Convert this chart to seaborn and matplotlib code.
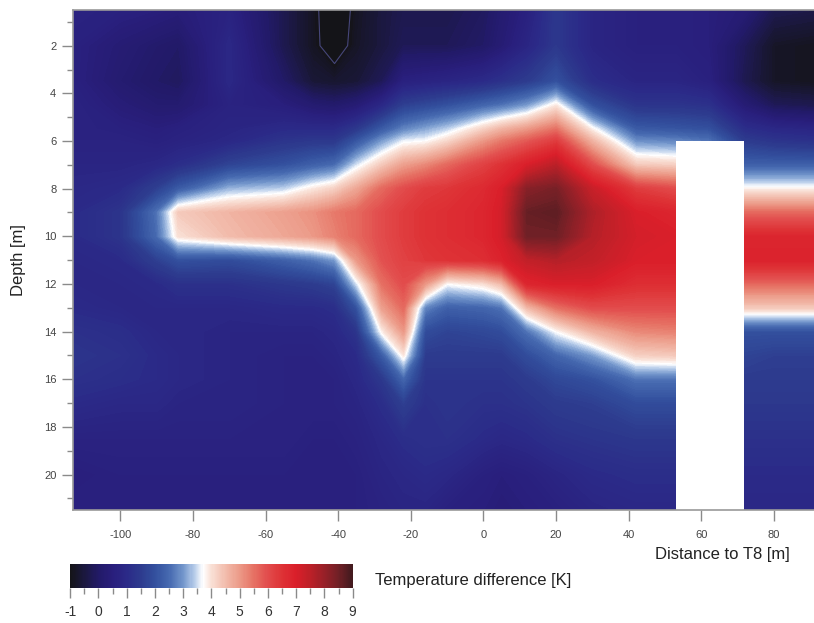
import numpy as np
import matplotlib
matplotlib.use("Agg")
import matplotlib.pyplot as plt
import seaborn as sns
from matplotlib.colors import LinearSegmentedColormap, Normalize
from matplotlib.cm import ScalarMappable
from matplotlib.ticker import MultipleLocator

# positions of the readings
distance = [-113, -100, -90, -84, -70, -55, -47, -41, -35, -28, -22, -16,
            -10, 0, 5, 12, 20, 30, 42, 53, 62, 72, 80, 91]
depth = [0.5, 2, 3.5, 4.5, 5.5, 6, 7, 8, 9, 10, 11, 12, 13, 14, 15, 16, 17,
         18.5, 20, 21.5]

nan = np.nan
# temperature difference [K], one depth profile (top -> bottom) per distance
profiles = [
    [0.7, 0.6, 0.6, 0.7, 0.7, 0.7, 0.8, 0.9, 1.0, 1.0, 0.9, 0.9, 1.0, 1.2, 1.3, 1.2, 1.0, 0.7, 0.5, 0.6],   # -113
    [0.6, 0.3, 0.2, 0.4, 0.6, 0.7, 0.8, 1.0, 1.3, 1.3, 1.0, 0.9, 0.9, 1.1, 1.2, 1.1, 0.9, 0.7, 0.6, 0.6],   # -100
    [0.5, 0.1, 0.0, 0.2, 0.5, 0.6, 0.9, 1.6, 2.6, 2.5, 1.6, 1.0, 0.9, 0.9, 1.0, 1.0, 0.9, 0.7, 0.6, 0.6],   # -90
    [0.4, 0.0, -0.1, 0.2, 0.6, 0.7, 1.1, 2.2, 4.3, 4.0, 2.0, 1.2, 0.9, 0.9, 0.9, 0.9, 0.8, 0.7, 0.6, 0.6],  # -84
    [0.7, 0.9, 0.9, 0.7, 0.8, 0.9, 1.7, 3.2, 4.6, 4.5, 1.9, 1.2, 0.9, 0.8, 0.8, 0.8, 0.8, 0.7, 0.6, 0.6],   # -70
    [-0.3, -0.3, 0.0, 0.5, 1.0, 1.3, 2.0, 3.4, 4.9, 4.8, 2.3, 1.4, 1.0, 0.8, 0.7, 0.7, 0.7, 0.7, 0.6, 0.6], # -55
    [-0.85, -0.85, -0.6, 0.2, 1.0, 1.4, 2.3, 3.9, 5.1, 5.0, 2.6, 1.5, 1.0, 0.8, 0.7, 0.7, 0.7, 0.6, 0.6, 0.6], # -47
    [-1.4, -1.3, -0.7, 0.1, 1.0, 1.4, 2.5, 4.2, 5.4, 5.3, 3.0, 1.7, 1.1, 0.9, 0.8, 0.7, 0.7, 0.6, 0.6, 0.6], # -41
    [-0.85, -0.8, -0.6, 0.3, 1.4, 2.1, 3.5, 4.8, 5.6, 5.6, 5.0, 3.5, 2.0, 1.3, 1.0, 0.9, 0.8, 0.7, 0.6, 0.6], # -35
    [-0.5, -0.5, -0.2, 0.9, 2.2, 3.0, 4.3, 5.6, 6.0, 6.0, 5.9, 5.5, 4.9, 3.8, 2.2, 1.4, 1.1, 0.9, 0.8, 0.7], # -28
    [-0.3, -0.2, 0.6, 1.6, 2.8, 3.6, 4.9, 6.0, 6.3, 6.3, 6.2, 6.0, 5.6, 5.0, 3.9, 2.4, 1.6, 1.1, 0.9, 0.8], # -22
    [-0.3, -0.2, 0.7, 1.8, 3.1, 3.7, 5.2, 6.3, 6.5, 6.5, 6.4, 5.0, 2.8, 1.9, 1.5, 1.3, 1.2, 1.2, 1.0, 0.8], # -16
    [-0.3, -0.2, 0.8, 2.0, 3.4, 4.1, 5.6, 6.4, 6.6, 6.6, 6.5, 3.7, 2.3, 1.7, 1.5, 1.3, 1.3, 1.2, 0.9, 0.6], # -10
    [-0.1, 0.0, 1.0, 2.4, 4.2, 5.0, 6.2, 6.7, 6.8, 6.8, 6.6, 4.0, 2.4, 1.8, 1.5, 1.3, 1.2, 1.0, 0.6, 0.5],  # 0
    [0.2, 0.3, 1.2, 2.6, 4.6, 5.4, 6.5, 7.0, 7.1, 7.1, 6.9, 4.5, 2.6, 1.9, 1.5, 1.3, 1.2, 0.9, 0.5, 0.4],   # 5
    [0.6, 0.8, 1.5, 3.0, 5.0, 5.8, 7.0, 8.2, 8.6, 8.5, 7.4, 6.8, 4.5, 2.6, 1.9, 1.5, 1.3, 1.0, 0.6, 0.5],   # 12
    [1.4, 1.4, 2.0, 3.9, 5.5, 6.3, 7.5, 8.4, 8.7, 8.5, 7.6, 7.0, 5.5, 3.7, 2.4, 1.8, 1.5, 1.2, 0.8, 0.6],   # 20
    [0.8, 0.8, 1.1, 2.0, 3.8, 4.6, 6.0, 7.3, 7.7, 7.6, 7.4, 7.0, 6.0, 4.6, 3.0, 2.0, 1.6, 1.3, 1.0, 0.8],   # 30
    [0.6, 0.6, 0.8, 1.3, 2.2, 2.9, 4.3, 6.3, 7.0, 7.1, 7.0, 6.6, 6.0, 5.2, 4.2, 2.6, 1.9, 1.4, 1.1, 0.9],   # 42
    [0.6, 0.6, 0.8, 1.3, 2.1, 2.8, 4.2, 6.0, 6.8, 7.0, 7.0, 6.6, 6.0, 5.3, 4.3, 2.6, 1.9, 1.4, 1.1, 0.9],   # 53
    [0.5, 0.5, 0.6, 1.2, 2.0, 2.6, nan, nan, nan, nan, nan, nan, nan, nan, nan, nan, nan, nan, nan, nan],  # 62 (no data)
    [0.3, -0.2, -0.3, 0.3, 1.1, 1.5, 2.3, 3.8, 5.6, 6.8, 6.9, 5.6, 4.3, 2.0, 1.7, 1.5, 1.4, 1.2, 1.0, 0.9], # 72
    [-0.3, -0.8, -0.8, -0.2, 0.9, 1.3, 2.3, 3.8, 5.6, 6.8, 6.9, 5.6, 4.3, 2.0, 1.6, 1.5, 1.4, 1.2, 1.0, 0.9], # 80
    [-0.4, -0.9, -0.9, -0.3, 0.8, 1.2, 2.3, 3.8, 5.6, 6.8, 6.9, 5.6, 4.3, 2.0, 1.6, 1.5, 1.4, 1.2, 1.0, 0.9], # 91
]

# colour scale
scale_values = [-1, -0.5, 0, 0.5, 1, 1.5, 2, 2.5, 3, 3.4, 3.7, 4, 4.5, 5, 5.5,
                6, 6.5, 7, 7.5, 8, 8.5, 9]
scale_colors = ["#141418", "#1b1840", "#221a68", "#291e7c", "#2b2a88", "#2d3b8e",
                "#33509e", "#4669b0", "#7497cc", "#b8cdea", "#ffffff", "#f9e0d6",
                "#f2bcac", "#ec9a88", "#e67264", "#e24c4c", "#de3236", "#da1f2a",
                "#bd2028", "#982028", "#722026", "#421a1e"]
cbar_ticks = list(range(-1, 10))

sns.set_theme(style="ticks")
plt.rcParams["font.family"] = ["Liberation Sans", "DejaVu Sans"]
plt.rcParams["axes.unicode_minus"] = False

vmin, vmax = scale_values[0], scale_values[-1]
cmap = LinearSegmentedColormap.from_list(
    "tempdiff",
    [((v - vmin) / (vmax - vmin), c) for v, c in zip(scale_values, scale_colors)])
norm = Normalize(vmin, vmax)

Z = np.ma.masked_invalid(np.array(profiles).T)

fig = plt.figure(figsize=(8.14, 6.23), dpi=100)
ax = fig.add_axes([0.0897, 0.181, 0.9103, 0.803])
ax.set_facecolor("white")

ax.contourf(distance, depth, Z, levels=np.linspace(vmin, vmax, 201), cmap=cmap,
            norm=norm, extend="both", corner_mask=False)
ax.contour(distance, depth, Z, levels=[-1.0], colors="#46467a", linewidths=0.8,
           linestyles="solid", corner_mask=False)

ax.set_xlim(-113, 91)
ax.set_ylim(21.5, 0.5)
ax.set_xticks(range(-100, 81, 20))
ax.yaxis.set_major_locator(MultipleLocator(2))
ax.yaxis.set_minor_locator(MultipleLocator(1))
ax.tick_params(which="major", length=8, width=1, color="#8a8a8a",
               labelsize=8, labelcolor="#444444", direction="out", pad=4)
ax.tick_params(axis="x", which="major", pad=6)
ax.tick_params(which="minor", length=4, width=1, color="#8a8a8a", direction="out")
for side in ["left", "top", "bottom"]:
    ax.spines[side].set_color("#9a9a9a")
    ax.spines[side].set_linewidth(1.2)
ax.spines["right"].set_visible(False)

ax.set_xlabel("Distance to T8 [m]", fontsize=12, color="#222222", loc="right")
ax.xaxis.set_label_coords(0.9676, -0.088)
ax.xaxis.label.set_va("center")
ax.set_ylabel("Depth [m]", fontsize=12, color="#222222")
ax.yaxis.set_label_coords(-0.074, 0.5)
ax.yaxis.label.set_va("center")

# colour bar
cax = fig.add_axes([0.0862, 0.0562, 0.347, 0.0385])
cb = fig.colorbar(ScalarMappable(norm=norm, cmap=cmap), cax=cax,
                  orientation="horizontal")
cb.set_ticks(cbar_ticks)
cb.ax.xaxis.set_minor_locator(MultipleLocator(0.5))
cb.outline.set_visible(False)
cb.ax.tick_params(which="major", length=7, width=1, color="#8a8a8a",
                  labelsize=10, labelcolor="#333333", pad=5)
cb.ax.tick_params(which="minor", length=4, width=1, color="#8a8a8a")
cax.text(1.08, 0.33, "Temperature difference [K]", transform=cax.transAxes,
         fontsize=12, color="#222222", va="center", ha="left")

fig.savefig("out.png", dpi=100)
